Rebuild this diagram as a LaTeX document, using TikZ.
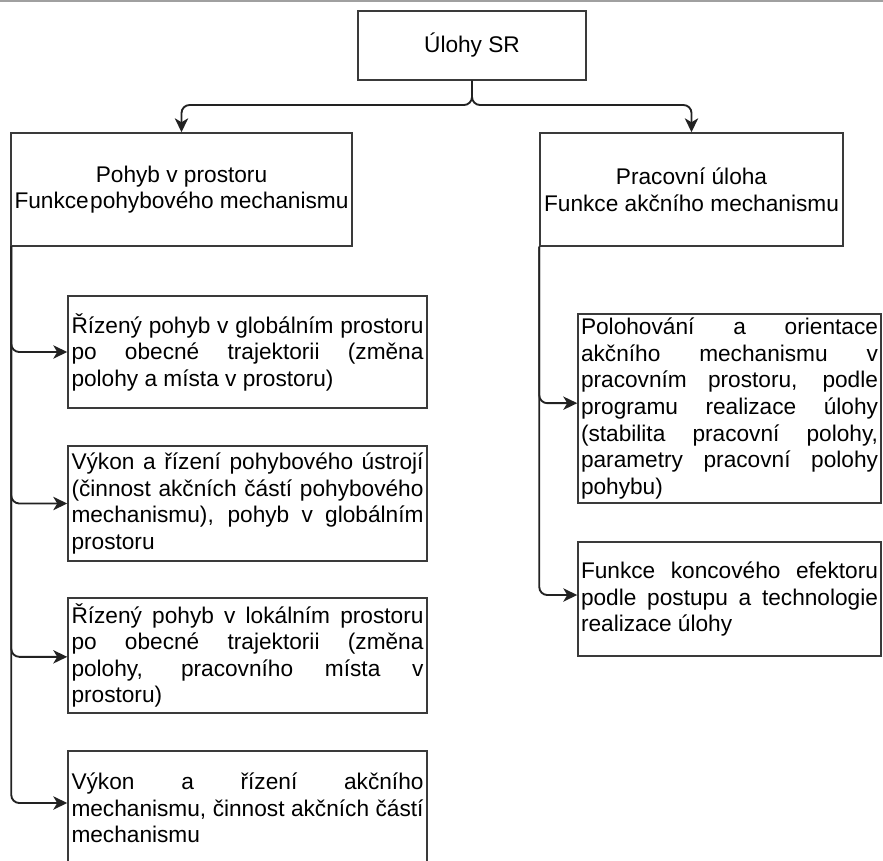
\documentclass[tikz,border=0pt]{standalone}
\usepackage{fontspec}
\setmainfont{Liberation Sans}
\usetikzlibrary{arrows.meta,calc}

\definecolor{boxgray}{HTML}{3A3A3A}
\definecolor{linegray}{HTML}{222222}
\definecolor{rulegray}{HTML}{A0A0A0}

% body text: no hyphenation, lines are broken by hand
\newcommand\bodyfont{\fontsize{17}{19.9}\selectfont\hyphenpenalty=10000 \exhyphenpenalty=10000 \tolerance=10000 }

\tikzset{
  box/.style={draw=boxgray, line width=1.1pt, rectangle, inner sep=0pt, font=\bodyfont},
  headbox/.style={box, align=center},
  leftitem/.style={box, align=justify, text width=264pt, inner xsep=2.6pt, minimum width=359*0.75pt},
  rightitem/.style={box, align=justify, text width=222.75pt, inner xsep=2.25pt, minimum width=303*0.75pt},
  conn/.style={draw=linegray, line width=1.4pt, rounded corners=6pt,
    -{Stealth[length=10.5pt,width=10pt,inset=3pt]}},
}

\begin{document}
\begin{tikzpicture}[x=0.75pt, y=-0.75pt]
\useasboundingbox (0,0) rectangle (883,861);
\clip (0,0) rectangle (883,861);

% thin rule along the top edge
\draw[rulegray, line width=1.5pt] (0,0.8) -- (883,0.8);

% root and the two main branches
\node[headbox, minimum width=228*0.75pt, minimum height=69*0.75pt] (top) at (472,45.5) {Úlohy SR};
\node[headbox, minimum width=341*0.75pt, minimum height=113*0.75pt] (pohyb) at (181.5,189.5)
  {Pohyb v prostoru\\Funkce\hspace{1pt}pohybového mechanismu};
\node[headbox, minimum width=303*0.75pt, minimum height=113*0.75pt] (prac) at (691.5,189.5)
  {Pracovní úloha\\Funkce akčního mechanismu};

% left column
\node[leftitem, minimum height=112*0.75pt] (c1) at (247.5,352)
  {Řízený pohyb v globálním prostoru\linebreak po obecné trajektorii (změna\linebreak polohy a místa v prostoru)};
\node[leftitem, minimum height=115*0.75pt] (c2) at (247.5,503.5)
  {Výkon a řízení pohybového ústrojí\linebreak (činnost akčních částí pohybového\linebreak mechanismu), pohyb v globálním\linebreak prostoru};
\node[leftitem, minimum height=115*0.75pt] (c3) at (247.5,655.5)
  {Řízený pohyb v lokálním prostoru\linebreak po obecné trajektorii (změna\linebreak polohy, pracovního místa v\linebreak prostoru)};
\node[leftitem, minimum height=114*0.75pt] (c4) at (247.5,808)
  {Výkon a řízení akčního\linebreak mechanismu, činnost akčních částí\linebreak mechanismu};

% right column
\node[rightitem, minimum height=189*0.75pt] (r1) at (729.5,408.5)
  {Polohování a orientace\linebreak akčního mechanismu v\linebreak pracovním prostoru, podle\linebreak programu realizace úlohy\linebreak (stabilita pracovní polohy,\linebreak parametry pracovní polohy\linebreak pohybu)};
\node[rightitem, minimum height=114*0.75pt] (r2) at (729.5,599)
  {Funkce koncového efektoru\linebreak podle postupu a technologie\linebreak realizace úlohy};

% connectors
\coordinate (split) at (472,105);
\draw[conn] (top.south) -- (split) -| (pohyb.north);
\draw[conn] (top.south) -- (split) -| (prac.north);

\coordinate (lroot) at ([xshift=0.75pt]pohyb.south west);
\draw[conn] (lroot) |- (c1.west);
\draw[conn] (lroot) |- (c2.west);
\draw[conn] (lroot) |- ([yshift=-1pt]c3.west);
\draw[conn] (lroot) |- ([yshift=3.75pt]c4.west);

\coordinate (rroot) at (prac.south west);
\draw[conn] (rroot) |- ([yshift=4pt]r1.west);
\draw[conn] (rroot) |- ([yshift=3pt]r2.west);
\end{tikzpicture}
\end{document}
